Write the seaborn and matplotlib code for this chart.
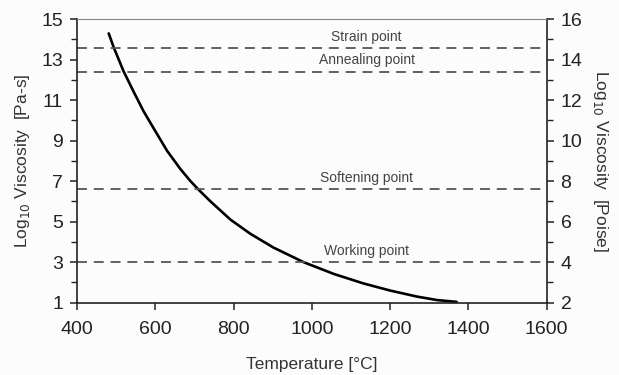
import matplotlib
matplotlib.use("Agg")
import matplotlib.pyplot as plt
import seaborn as sns
import pandas as pd

# Data
temperature = [481, 494, 519, 545, 570, 596, 630, 664, 689, 712, 741, 792, 843, 902,
               979, 1056, 1132, 1200, 1269, 1320, 1370]
log_visc_pas = [14.29, 13.59, 12.42, 11.4, 10.45, 9.6, 8.5, 7.6, 7.02, 6.55, 6.0,
                5.1, 4.4, 3.72, 3.0, 2.42, 1.95, 1.6, 1.3, 1.13, 1.04]

ref_names = ["Strain point", "Annealing point", "Softening point", "Working point"]
ref_values = [13.55, 12.4, 6.6, 3.0]
label_temp = 1140

x_ticks = [400, 600, 800, 1000, 1200, 1400, 1600]
left_ticks = [1, 3, 5, 7, 9, 11, 13, 15]
right_ticks = [2, 4, 6, 8, 10, 12, 14, 16]

sns.set_theme(style="white")
plt.rcParams["font.family"] = ["Liberation Sans", "DejaVu Sans"]

fig = plt.figure(figsize=(6.19, 3.75), dpi=100)
fig.patch.set_facecolor("#fcfcfc")
ax = fig.add_axes([77/619, 1-302.7/375, (546.7-77)/619, (302.7-19)/375])
ax.set_facecolor("#fcfcfc")

df = pd.DataFrame({"T": temperature, "V": log_visc_pas})
sns.lineplot(data=df, x="T", y="V", ax=ax, color="black", linewidth=1.9, sort=False,
             solid_joinstyle="round", solid_capstyle="round")

for name, v in zip(ref_names, ref_values):
    ax.axhline(v, color="#555555", linewidth=1.3, linestyle=(0, (5.5, 3.8)))
    ax.text(label_temp, v + 0.22, name, ha="center", va="bottom", fontsize=10, color="#444444")

ax.set_xlim(400, 1600)
ax.set_ylim(1, 15)
ax.set_xticks(x_ticks)
ax.set_yticks(left_ticks)
ax.set_yticks(list(range(2, 15, 2)), minor=True)
ax.set_xlabel("Temperature [°C]", fontsize=12.5, color="#333333", labelpad=14)
ax.set_ylabel("Log$_{10}$ Viscosity  [Pa-s]", fontsize=12.5, color="#333333", labelpad=7)

for s in ["left", "bottom", "right"]:
    ax.spines[s].set_color("#222222")
    ax.spines[s].set_linewidth(1.2)
ax.spines["top"].set_color("#888888")
ax.spines["top"].set_linewidth(0.8)

ax.tick_params(axis="both", which="major", direction="out", length=5, width=1.1,
               labelsize=14, colors="#222222", pad=5, left=True, bottom=True)
ax.tick_params(axis="x", which="major", pad=8)
ax.tick_params(axis="y", which="minor", direction="out", length=4, width=1.0,
               color="#222222", left=True)

ax2 = ax.twinx()
ax2.set_ylim(2, 16)
ax2.set_yticks(right_ticks)
ax2.set_yticks(list(range(3, 16, 2)), minor=True)
ax2.set_ylabel("Log$_{10}$ Viscosity  [Poise]", fontsize=12.5, color="#333333",
               rotation=270, labelpad=20)
ax2.tick_params(axis="y", which="major", direction="out", length=5, width=1.1,
                labelsize=14, colors="#222222", pad=5, right=True)
ax2.tick_params(axis="y", which="minor", direction="out", length=4, width=1.0,
                color="#222222", right=True)
for s in ax2.spines.values():
    s.set_visible(False)
ax2.grid(False)
ax.grid(False)

fig.savefig("out.png", dpi=100, facecolor=fig.get_facecolor())
